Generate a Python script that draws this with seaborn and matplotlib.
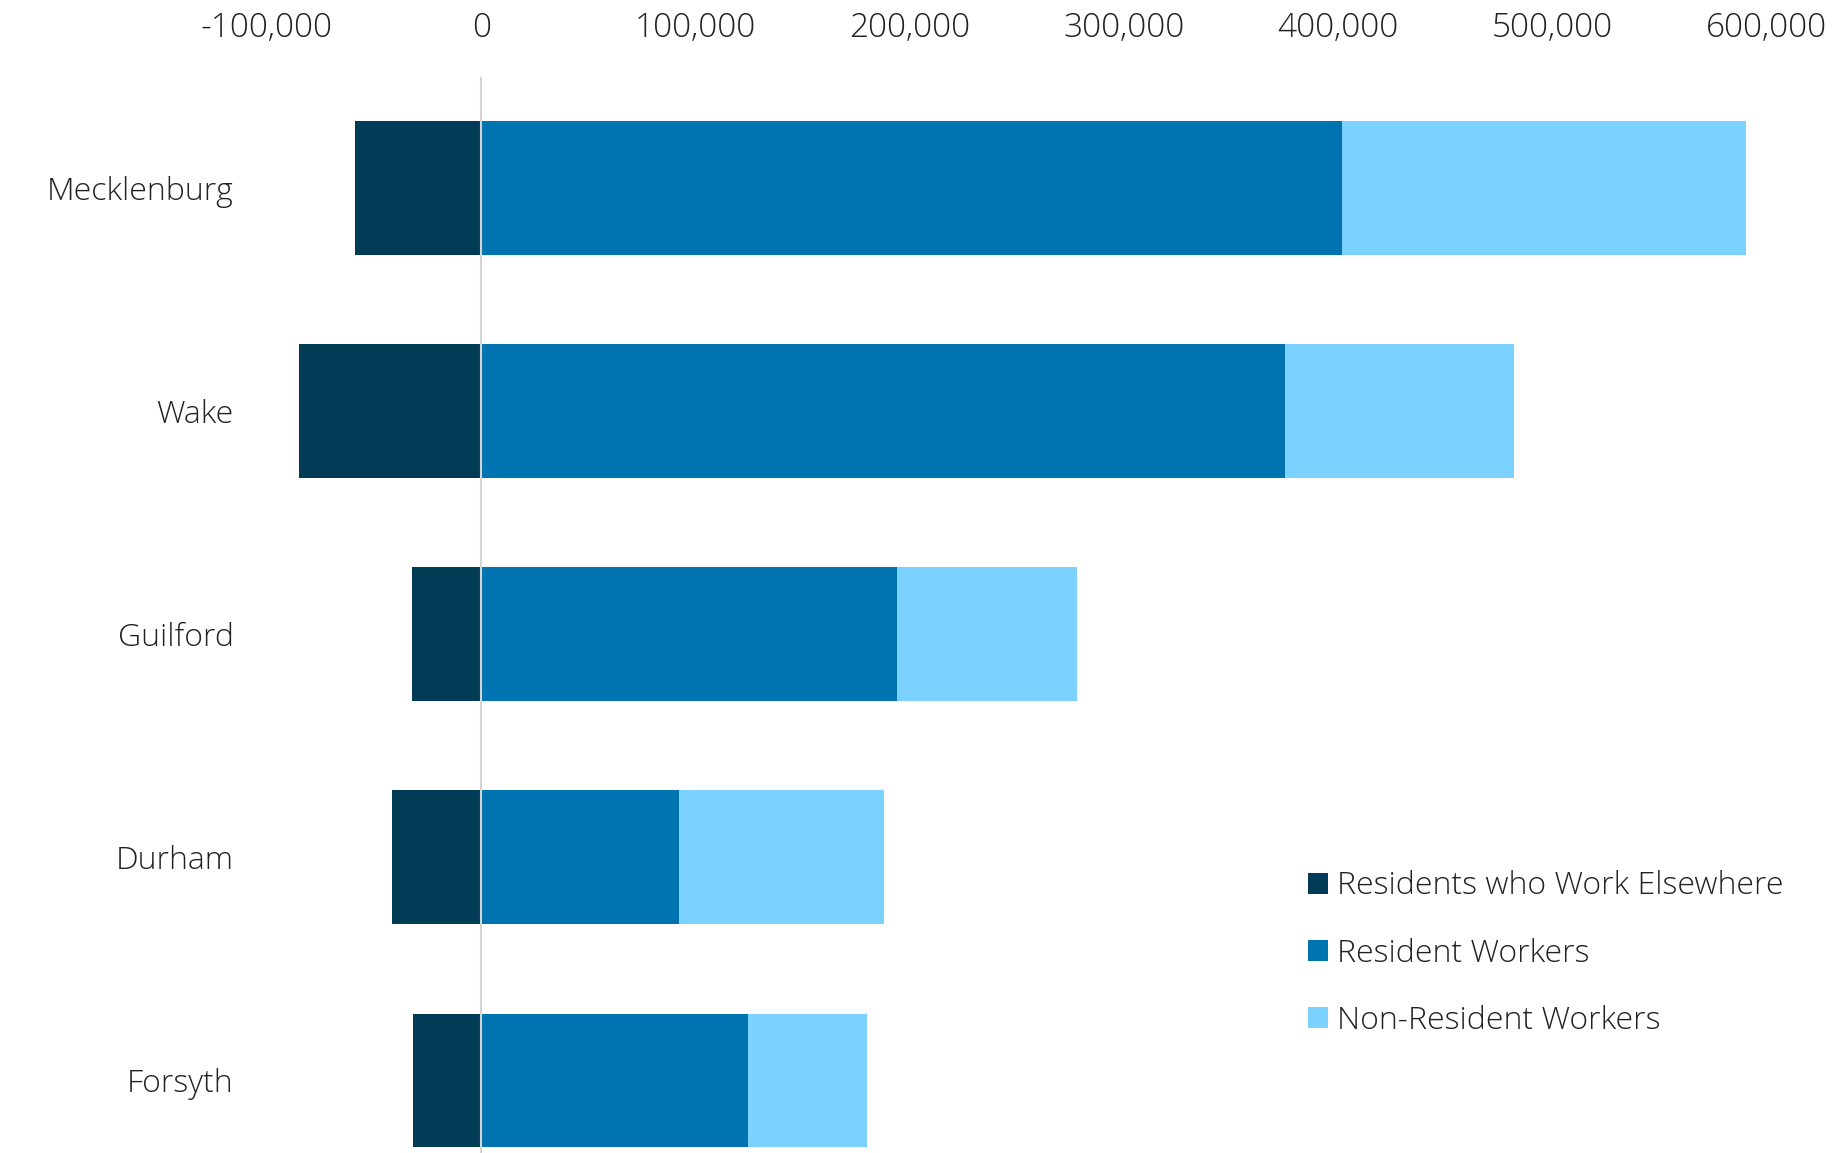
import pandas as pd
import matplotlib
matplotlib.use('Agg')
import matplotlib.pyplot as plt
import seaborn as sns
from matplotlib.patches import Patch
from matplotlib.ticker import FuncFormatter

counties = ['Mecklenburg', 'Wake', 'Guilford', 'Durham', 'Forsyth']
residents_elsewhere = [-59000, -85200, -32200, -41500, -31700]
resident_workers = [402000, 375400, 194000, 92300, 124600]
non_resident_workers = [188500, 107100, 84100, 95700, 55700]

series_names = ['Residents who Work Elsewhere', 'Resident Workers', 'Non-Resident Workers']
colors = ['#023B56', '#0074B0', '#7BD2FF']

df = pd.DataFrame({
    'county': counties,
    'elsewhere': residents_elsewhere,
    'resident': resident_workers,
    'total': [r + n for r, n in zip(resident_workers, non_resident_workers)],
})

sns.set_style('white')
plt.rcParams['font.family'] = ['Open Sans', 'DejaVu Sans']
plt.rcParams['font.weight'] = 'light'

fig = plt.figure(figsize=(18.35, 11.53), dpi=100)
ax = fig.add_axes([0.1455, 0.0, 0.8169, 0.933])

# total first, then resident on top -> light part shows non-resident
sns.barplot(data=df, y='county', x='total', order=counties, color=colors[2],
            width=0.6, saturation=1, orient='h', linewidth=0, ax=ax)
sns.barplot(data=df, y='county', x='resident', order=counties, color=colors[1],
            width=0.6, saturation=1, orient='h', linewidth=0, ax=ax)
sns.barplot(data=df, y='county', x='elsewhere', order=counties, color=colors[0],
            width=0.6, saturation=1, orient='h', linewidth=0, ax=ax)

ax.axvline(0, color='#d4d4d4', lw=1.5, zorder=5)

ax.set_xlim(-100000, 600000)
ax.set_ylim(4.325, -0.496)
ax.xaxis.tick_top()
ax.set_xticks(range(-100000, 600001, 100000))
ax.xaxis.set_major_formatter(FuncFormatter(lambda v, p: f'{int(v):,}'))
ax.tick_params(axis='x', length=0, pad=23, labelsize=24, labelcolor='#222222')
ax.tick_params(axis='y', length=0, pad=24, labelsize=23, labelcolor='#222222')
ax.set_xlabel('')
ax.set_ylabel('')
for s in ax.spines.values():
    s.set_visible(False)

handles = [Patch(facecolor=c, edgecolor='none', label=n) for c, n in zip(colors, series_names)]
fig.legend(handles=handles, loc='upper left', bbox_to_anchor=(0.697, 0.27),
           frameon=False, fontsize=23, handlelength=0.62, handleheight=0.62,
           handletextpad=0.3, labelspacing=1.1, labelcolor='#222222')

fig.savefig('out.png', dpi=100, facecolor='white')
